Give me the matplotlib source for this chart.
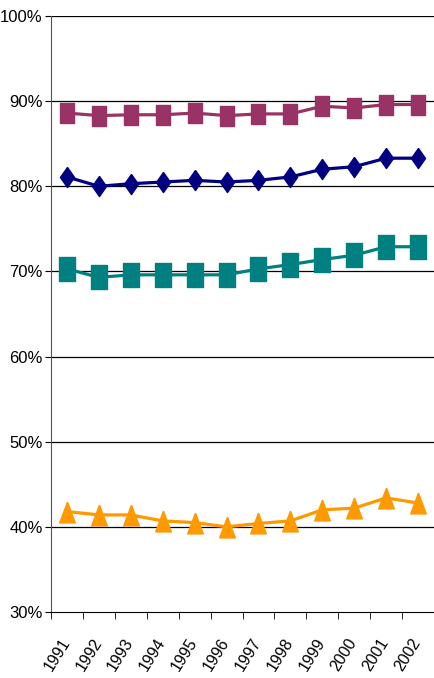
import matplotlib
matplotlib.use("Agg")
import matplotlib.pyplot as plt
import matplotlib.transforms as mtransforms
import numpy as np

years = ["1991", "1992", "1993", "1994", "1995", "1996", "1997", "1998", "1999", "2000", "2001", "2002"]
purple = [88.6, 88.3, 88.4, 88.4, 88.6, 88.3, 88.5, 88.5, 89.4, 89.2, 89.6, 89.6]
navy = [81.1, 80.0, 80.3, 80.5, 80.7, 80.5, 80.7, 81.1, 82.0, 82.3, 83.3, 83.3]
teal = [70.3, 69.3, 69.6, 69.6, 69.6, 69.6, 70.3, 70.8, 71.4, 71.9, 72.9, 72.9]
orange = [41.8, 41.4, 41.4, 40.7, 40.5, 40.0, 40.4, 40.7, 42.0, 42.2, 43.4, 42.8]
yticks = [30, 40, 50, 60, 70, 80, 90, 100]

plt.rcParams['font.family'] = ['Liberation Sans', 'DejaVu Sans']

# vertically stretched marker shapes
rect_p = [(-0.70, -1), (0.70, -1), (0.70, 1), (-0.70, 1), (-0.70, -1)]
rect_t = [(-0.67, -1), (0.67, -1), (0.67, 1), (-0.67, 1), (-0.67, -1)]
diam = [(0, 1), (0.7, 0), (0, -1), (-0.7, 0), (0, 1)]
tri = [(0, 1), (0.75, -1), (-0.75, -1), (0, 1)]

fig = plt.figure(figsize=(4.34, 6.78), dpi=100)
ax = fig.add_axes([51/434, 1 - 612/678, 1 - 51/434, (612 - 16)/678])

x = np.arange(len(years))
ax.plot(x, purple, color="#993366", lw=2.3, marker=rect_p, ms=14, zorder=3)
ax.plot(x, navy, color="#000080", lw=2.3, marker=diam, ms=14.5, zorder=3)
ax.plot(x, teal, color="#008080", lw=2.3, marker=rect_t, ms=17, zorder=3)
ax.plot(x, orange, color="#FF9900", lw=2.3, marker=tri, ms=15, zorder=3)

ax.set_xlim(-0.5, len(years) - 0.5)
ax.set_ylim(30, 100)
ax.set_yticks(yticks)
ax.set_yticklabels([f"{v}%" for v in yticks], fontsize=12)
for v in yticks[1:]:
    ax.axhline(v, color="black", lw=0.9, zorder=1)

ax.set_xticks(x)
ax.set_xticklabels(years, rotation=58, ha="right", va="top", rotation_mode="anchor", fontsize=11.5)
ax.tick_params(axis="x", which="major", length=0, pad=17)
offset = mtransforms.ScaledTranslation(-7/100, 0, fig.dpi_scale_trans)
for lab in ax.get_xticklabels():
    lab.set_transform(lab.get_transform() + offset)
ax.set_xticks(np.arange(-0.5, len(years), 1.0), minor=True)
ax.tick_params(axis="x", which="minor", length=5, direction="out", color="black")
ax.tick_params(axis="y", length=4, direction="out", pad=2, colors="black")

for s in ["top", "right"]:
    ax.spines[s].set_visible(False)
ax.spines["left"].set_color("#555555")
ax.spines["bottom"].set_color("black")

fig.savefig("out.png", dpi=100)
